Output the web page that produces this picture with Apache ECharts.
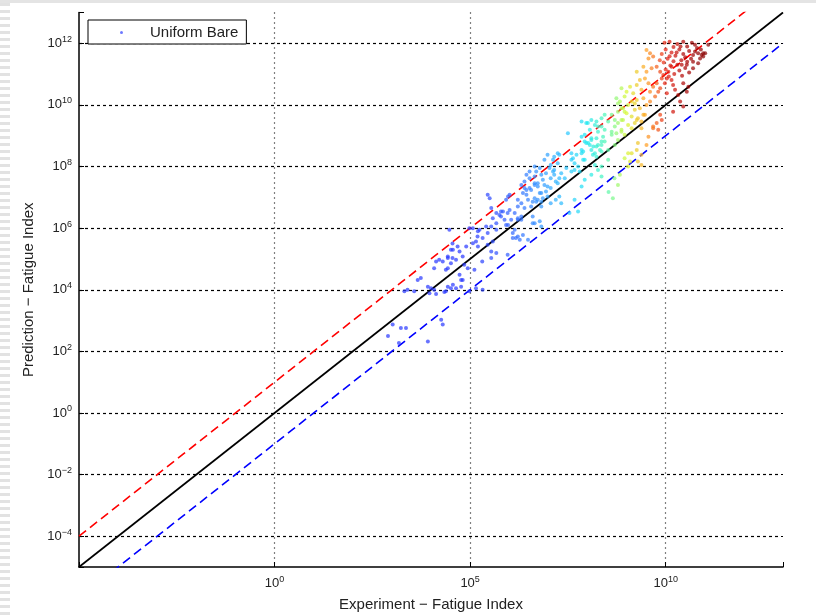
<!DOCTYPE html>
<html>
<head>
<meta charset="utf-8">
<script src="https://cdn.jsdelivr.net/npm/echarts@6/dist/echarts.min.js"></script>
<style>
  html, body { margin: 0; padding: 0; background: #fff; }
  #main { width: 816px; height: 615px; }
</style>
</head>
<body>
<div id="main"></div>
<script>
// all values are log10 exponents: [experiment, prediction]
var lowPts = [
  [5.45,7.08],[5.5,6.97],[4.47,5.95],[4.98,6.0],[5.07,6.0],[5.2,5.9],[5.45,5.84],[5.15,5.57],[5.2,5.4],
  [4.55,5.5],[4.68,5.4],[4.51,5.3],[4.43,5.03],[4.55,5.03],[4.21,4.97],[4.3,4.92],[4.13,4.92],[4.08,4.7],
  [4.38,4.65],[4.43,4.7],[3.74,4.38],[3.66,4.32],[3.92,4.1],[4.0,4.05],[4.08,4.0],[4.43,4.1],[4.51,4.05],
  [4.38,3.95],[3.4,4.0],[3.57,3.95],[3.32,3.95],[4.64,4.05],[4.77,4.1],[5.54,6.65],[5.67,6.49],[5.84,6.54],
  [5.79,6.38],[5.96,6.49],[5.54,6.05],[5.67,5.95],[5.92,6.1],[5.54,5.24],[5.67,5.19],[5.54,5.03],[5.96,5.14],
  [4.85,4.81],[4.94,4.7],[4.26,3.03],[4.3,2.87],[3.23,2.76],[3.36,2.76],[3.92,2.32],[2.9,2.5],[4.73,4.49],
  [4.81,4.32],[3.18,2.27],[4.56,4.16],[4.77,4.32],[5.11,4.65],[5.31,4.92],[3.96,3.89],[4.13,3.86],[4.34,3.93],
  [4.98,3.95],[5.15,4.05],[5.32,4.0],[3.02,2.87],[5.79,6.54],[5.75,6.43],[5.88,6.27],[5.58,6.32],[5.67,6.16],
  [5.41,6.05],[5.24,5.95],[5.19,5.73],[5.32,5.68],[5.07,5.51],[4.9,5.4],[4.73,5.24],[4.56,5.3],[4.43,5.08],
  [4.64,4.97],[4.51,4.86],[4.81,5.08],[5.58,5.57],[5.45,5.46],[5.97,6.1]
];
var midPts = [
  [5.97,7.03],[6.01,7.08],[5.92,6.92],[6.31,7.4],[6.39,7.3],[6.44,7.24],[6.44,7.73],[6.52,7.84],[6.65,8.0],
  [6.69,7.84],[6.78,7.95],[6.65,7.68],[6.82,7.73],[6.86,7.57],[6.73,7.46],[6.9,7.4],[6.98,7.35],[7.06,7.3],
  [6.94,7.19],[7.03,7.95],[7.12,7.84],[7.15,7.73],[7.06,7.62],[7.19,7.51],[7.28,7.62],[7.33,7.78],[7.12,8.22],
  [7.15,8.32],[7.24,8.43],[7.28,8.38],[7.5,9.08],[7.59,8.43],[7.63,8.27],[7.67,8.11],[7.76,8.0],[7.8,7.84],
  [7.89,8.22],[7.85,8.43],[7.93,8.81],[8.02,8.76],[8.1,8.86],[8.15,8.65],[8.23,8.92],[8.27,8.7],[8.32,8.54],
  [8.36,8.81],[8.4,8.97],[8.19,8.43],[7.85,9.46],[7.97,9.41],[8.1,9.51],[8.19,9.35],[8.36,9.3],[8.44,9.19],
  [8.19,8.05],[8.27,7.89],[8.36,7.68],[8.1,7.73],[7.93,7.57],[7.85,7.35],[7.67,6.92],[7.54,6.49],[7.76,6.54],
  [6.22,6.32],[6.14,6.49],[6.01,6.59],[6.31,6.27],[6.6,6.38],[6.65,6.16],[6.78,6.22],[6.82,6.05],[6.27,5.62],
  [6.6,6.86],[6.73,6.92],[6.86,6.97],[6.98,7.03],[6.82,6.7],[7.06,6.81],[7.19,6.92],[7.28,7.03],[7.33,6.81],
  [6.22,6.92],[6.31,6.81],[6.44,7.08],[6.56,6.7],[6.69,6.86],[6.82,7.14],[6.52,7.3],[6.65,7.4],[6.09,5.84],
  [6.17,5.68],[6.35,5.78],[6.48,5.62],[6.22,6.27],[6.6,6.16],[6.05,6.27],[6.14,5.95],[6.22,5.73],[6.09,5.68],
  [6.39,7.51],[6.52,7.62],[6.65,7.46],[6.56,7.24],[6.73,7.35],[6.35,7.14],[6.48,6.92],[6.65,6.97],[6.78,7.14],
  [6.82,6.86],[6.22,6.7],[6.39,6.65],[6.31,6.38],[6.9,8.22],[6.98,8.38],[7.06,8.05],[7.15,7.89],[7.24,8.11],
  [7.42,7.62],[6.94,7.78],[7.24,7.46],[7.46,7.95],[7.59,7.84],[7.85,8.97],[7.97,8.76],[8.1,8.54],[8.23,8.32],
  [8.36,8.7],[7.89,8.49],[8.36,8.0],[8.06,9.19],[8.27,9.3],[7.59,8.22],[7.67,7.89],[7.93,9.03],[8.1,8.92],
  [8.27,9.13],[8.06,8.7],[8.23,8.65],[8.44,8.81],[7.85,8.54],[7.72,8.38],[7.93,8.22],[8.14,8.38],[8.36,8.49],
  [8.01,9.41],[8.23,9.46],[8.36,9.57],[8.44,9.68]
];
var highPts = [
  [8.53,9.46],[8.62,9.13],[8.7,9.3],[8.78,9.41],[8.74,9.08],[8.87,9.19],[8.91,9.51],[9.04,9.35],[9.13,9.24],
  [9.21,9.41],[9.29,9.57],[9.38,9.46],[9.38,9.24],[9.47,9.68],[9.29,8.76],[9.13,8.43],[9.09,8.16],[9.29,8.16],
  [9.38,8.05],[8.78,7.4],[8.65,6.97],[9.04,8.0],[8.83,7.73],[8.53,8.54],[8.7,8.7],[8.78,8.86],[8.87,9.13],
  [8.95,9.03],[8.62,9.03],[8.53,8.22],[9.56,8.97],[9.51,8.7],[9.26,8.54],[9.38,8.38],[9.04,8.43],[8.95,8.27],
  [9.81,9.19],[9.77,9.41],[9.68,9.24],[9.86,9.68],[9.9,9.51],[9.68,9.3],[8.54,7.17],[8.69,7.62],
  [8.78,10.05],[8.87,9.89],[8.95,9.78],[8.62,9.68],[8.7,9.51],[9.21,10.05],
  [8.74,10.22],[8.83,10.11],[8.91,9.89],[9.04,10.0],[8.78,9.78],[9.0,9.73],[9.21,9.84],[9.34,9.89],[9.13,9.62],
  [8.87,9.51],[9.26,9.51],[9.43,9.68],
  [8.87,10.54],[9.0,10.43],[9.09,10.59],[9.17,10.38],[8.95,10.27],[9.26,10.16],[9.43,10.22],[9.13,10.11],
  [9.51,10.0],[9.6,10.11],
  [9.26,11.08],[9.34,10.81],[9.47,10.86],[9.56,10.7],[9.68,10.59],[9.77,10.7],[9.81,10.43],[9.86,10.54],
  [10.03,10.38],[9.26,10.65],[9.38,10.49],[9.6,10.43],[9.73,10.27],
  [9.43,11.24],[9.51,11.08],[9.64,11.19],[9.77,11.24],[9.86,11.08],[9.94,10.97],[10.03,10.86],[10.07,11.08],
  [10.15,11.24],[9.9,10.86],[9.98,10.7],[10.15,10.81],[10.19,10.65],[10.24,10.49],
  [9.51,11.78],[9.6,11.68],[9.56,11.51],[9.68,11.57],[10.96,11.68],[10.88,11.51],[10.7,11.19],[10.67,12.02],
  [10.75,11.95],[11.09,11.95],[10.83,11.68],[10.92,11.62],[10.96,11.57],[10.75,11.73],[11.01,11.68],
  [10.7,11.62],[10.83,11.35],[10.54,11.3],[10.41,11.3],
  [10.37,10.11],[10.45,9.95],[10.19,9.78],[10.54,10.43],[10.58,10.59],[10.45,10.7],[10.32,10.32],
  [9.97,12.02],[10.1,12.05],[10.3,11.98],[10.45,12.05],[10.55,11.9],[10.2,11.88],[10.0,11.8],[10.35,11.8],
  [10.6,11.75],[10.15,11.7],[10.45,11.65],[9.9,11.65],[10.25,11.6],[10.65,11.5],[10.05,11.5],[10.4,11.45],
  [10.2,11.42],[10.55,11.4],[9.95,11.38],[10.3,11.3],[10.12,11.28],[10.5,11.2],[10.0,11.15],[10.35,11.12],
  [10.6,11.05],[10.22,11.0],[10.42,10.95],[10.08,10.92],[10.8,11.85],[10.9,11.8],[10.28,11.7],[10.5,11.55],
  [9.85,11.45],[10.7,11.4],[10.1,11.58],[10.38,11.9]
];

// reference lines y = x + offset (decades)
var lineOffsets = [0, 1, -1];
var lineColors = ['#000000', '#ff0000', '#0000ff'];
var axisRange = [-5, 13];
// jet-like colours along experiment exponent 5..11
var jetColors = ['#2838ff','#2c48ff','#3060ff','#3080ff','#30a4ff','#28c8ff','#20e8f0',
                 '#50f8b0','#d8f830','#ffa020','#e82010','#a80000','#880000'];

var chart = echarts.init(document.getElementById('main'));

function expLabel(v) {
  if (v <= axisRange[0] || v >= axisRange[1]) return '';
  return '{b|10}{s|' + String(v).replace('-', '\u2212') + '}';
}
var labelRich = {
  b: { fontSize: 13, color: '#222', fontFamily: 'Liberation Sans' },
  s: { fontSize: 9, color: '#222', fontFamily: 'Liberation Sans', padding: [0, 0, 8, 0] }
};

var lineSeries = lineOffsets.map(function (o, i) {
  return {
    type: 'line',
    silent: true,
    showSymbol: false,
    z: 1,
    data: [[axisRange[0], axisRange[0] + o], [axisRange[1], axisRange[1] + o]],
    lineStyle: { color: lineColors[i], width: o === 0 ? 1.7 : 1.6, type: o === 0 ? 'solid' : [9, 5] }
  };
});

var option = {
  animation: false,
  backgroundColor: '#ffffff',
  grid: { left: 79, right: 33, top: 12.5, bottom: 48, outerBoundsMode: 'none', containLabel: false },
  legend: {
    data: ['Uniform Bare'],
    left: 88, top: 20,
    padding: [5, 8, 4, 32],
    backgroundColor: '#fff',
    borderColor: '#000', borderWidth: 1, borderRadius: 0,
    icon: 'circle', itemWidth: 3, itemHeight: 3,
    textStyle: { fontSize: 15, color: '#222', fontFamily: 'Liberation Sans', padding: [0, 0, 0, 22] }
  },
  visualMap: {
    show: false, type: 'continuous', seriesIndex: 3, dimension: 0,
    min: 5, max: 11, inRange: { color: jetColors }
  },
  xAxis: {
    type: 'value', min: axisRange[0], max: axisRange[1], interval: 5,
    name: 'Experiment \u2212 Fatigue Index', nameLocation: 'middle', nameGap: 30,
    nameTextStyle: { fontSize: 15, color: '#222', fontFamily: 'Liberation Sans' },
    axisLine: { onZero: false, lineStyle: { color: '#000', width: 1.5 } },
    axisTick: { inside: true, length: 5, lineStyle: { color: '#000' } },
    axisLabel: { formatter: expLabel, rich: labelRich, margin: 8 },
    splitLine: { show: true, showMinLine: false, showMaxLine: false,
                 lineStyle: { color: '#000', type: [1, 4], width: 1.2 } }
  },
  yAxis: {
    type: 'value', min: axisRange[0], max: axisRange[1], splitNumber: 9,
    name: 'Prediction \u2212 Fatigue Index', nameLocation: 'middle', nameGap: 40,
    nameTextStyle: { fontSize: 15, color: '#222', fontFamily: 'Liberation Sans' },
    axisLine: { show: true, onZero: false, lineStyle: { color: '#000', width: 1.5 } },
    axisTick: { show: true, inside: true, length: 5, lineStyle: { color: '#000' } },
    axisLabel: { formatter: expLabel, rich: labelRich, margin: 7 },
    splitLine: { show: true, showMinLine: false, showMaxLine: false,
                 lineStyle: { color: '#000', type: [3, 3], width: 1.2 } }
  },
  graphic: [
    { type: 'rect', shape: { x: 0, y: 0, width: 816, height: 3 }, style: { fill: '#e4e4e4' } },
    { type: 'line', shape: { x1: 5, y1: 3, x2: 5, y2: 615 },
      style: { stroke: '#e2e2e2', lineWidth: 10, lineDash: [3, 4] } }
  ],
  series: lineSeries.concat([{
    name: 'Uniform Bare',
    type: 'scatter',
    z: 3,
    symbolSize: 4,
    itemStyle: { color: '#3040ff', opacity: 0.7 },
    data: lowPts.concat(midPts, highPts)
  }])
};
chart.setOption(option);
</script>
</body>
</html>
